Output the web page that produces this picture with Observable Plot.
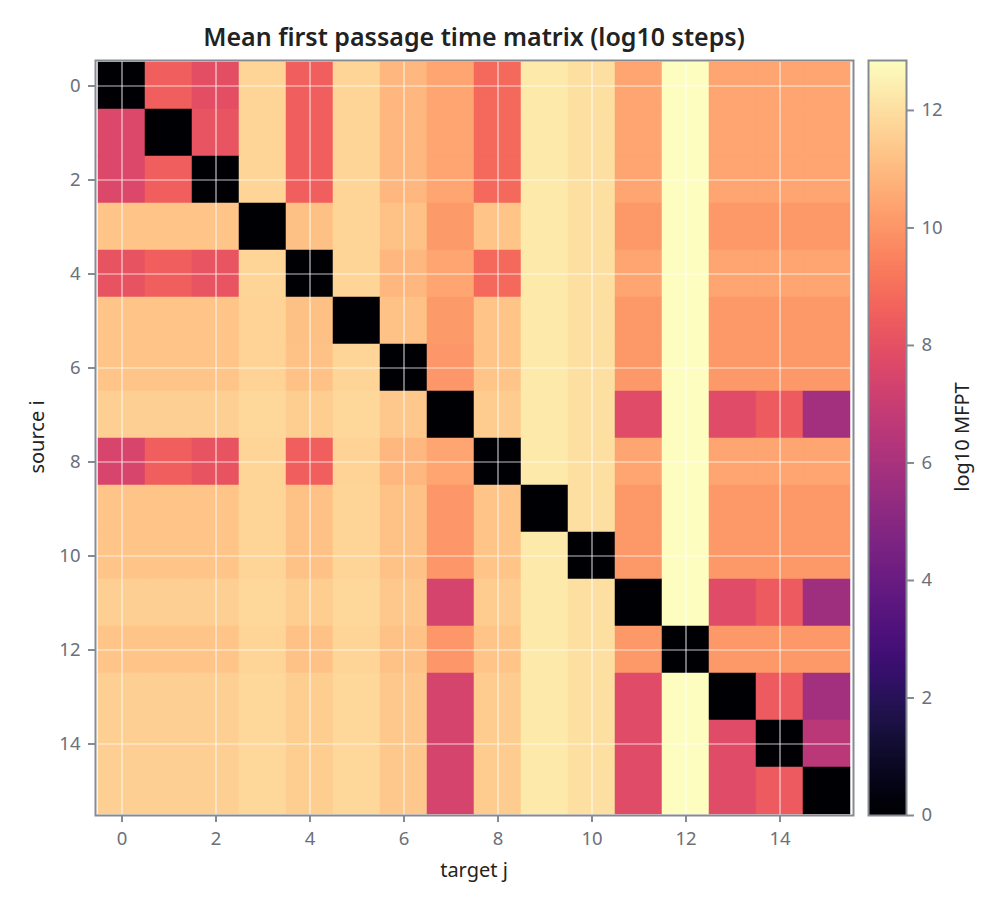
<!DOCTYPE html>
<html>
<head>
<meta charset="utf-8">
<script src="https://cdn.jsdelivr.net/npm/d3@7"></script>
<script src="https://cdn.jsdelivr.net/npm/@observablehq/plot@0.6"></script>
<style>
  body { margin: 0; background: #fff; }
  #wrap { position: relative; width: 1000px; height: 909px; font-family: "Noto Sans", "Open Sans", sans-serif; overflow: hidden; }
  #main, #cbar { position: absolute; top: 0; }
  #main { left: 0; }
  #cbar { left: 860px; }
  #main svg text, #cbar svg text { font-size: 18.5px !important; }
  .lbl { position: absolute; color: #222; font-size: 20px; white-space: nowrap; line-height: 1; }
  #title { left: 95px; width: 758px; top: 24px; text-align: center; font-size: 25px; font-weight: 600; color: #222; }
  #xlab { left: 95px; width: 758px; top: 860px; text-align: center; }
  #ylab { left: 37px; top: 437px; transform: translate(-50%, -50%) rotate(-90deg); }
  #clab { left: 962px; top: 437px; transform: translate(-50%, -50%) rotate(-90deg); }
</style>
</head>
<body>
<div id="wrap">
  <div id="main"></div>
  <div id="cbar"></div>
  <div class="lbl" id="title">Mean first passage time matrix (log10 steps)</div>
  <div class="lbl" id="xlab">target j</div>
  <div class="lbl" id="ylab">source i</div>
  <div class="lbl" id="clab">log10 MFPT</div>
</div>
<script>
// node indices (source i / target j)
const nodes = [0, 1, 2, 3, 4, 5, 6, 7, 8, 9, 10, 11, 12, 13, 14, 15];
// tick labels
const axisTicks = [0, 2, 4, 6, 8, 10, 12, 14];
const colorbarTicks = [0, 2, 4, 6, 8, 10, 12];
const colorMax = 12.85;

// log10 mean first passage time, one array per source row i (columns = target j)
const row0  = [0,     8.5,   7.9,   11.7,  8.5,   11.7,  10.9,  10.4,  8.8,   12.27, 12.0,  10.4,  12.85, 10.4,  10.4,  10.4];
const row1  = [7.67,  0,     8.15,  11.7,  8.5,   11.7,  10.9,  10.4,  8.8,   12.27, 12.0,  10.4,  12.85, 10.4,  10.4,  10.4];
const row2  = [7.67,  8.5,   0,     11.7,  8.5,   11.7,  10.9,  10.4,  8.8,   12.27, 12.0,  10.4,  12.85, 10.4,  10.4,  10.4];
const row3  = [11.27, 11.27, 11.25, 0,     11.15, 11.7,  11.2,  10.1,  11.27, 12.27, 12.0,  10.05, 12.85, 10.05, 10.05, 10.05];
const row4  = [8.1,   8.5,   8.15,  11.7,  0,     11.7,  10.9,  10.4,  8.8,   12.27, 12.0,  10.4,  12.85, 10.4,  10.4,  10.4];
const row5  = [11.27, 11.27, 11.25, 11.65, 11.15, 0,     11.2,  10.1,  11.27, 12.27, 12.0,  10.05, 12.85, 10.05, 10.05, 10.05];
const row6  = [11.27, 11.27, 11.25, 11.65, 11.2,  11.7,  0,     10.0,  11.27, 12.27, 12.0,  10.05, 12.85, 10.05, 10.05, 10.05];
const row7  = [11.55, 11.55, 11.55, 11.8,  11.5,  11.8,  11.35, 0,     11.45, 12.27, 12.0,  7.8,   12.85, 7.8,   8.35,  5.85];
const row8  = [7.5,   8.5,   8.1,   11.7,  8.5,   11.65, 10.9,  10.4,  0,     12.27, 12.0,  10.4,  12.85, 10.4,  10.4,  10.4];
const row9  = [11.27, 11.27, 11.25, 11.7,  11.2,  11.7,  11.2,  10.0,  11.27, 0,     12.0,  10.05, 12.85, 10.05, 10.05, 10.05];
const row10 = [11.27, 11.27, 11.25, 11.7,  11.2,  11.7,  11.2,  10.0,  11.27, 12.27, 0,     10.05, 12.85, 10.05, 10.05, 10.05];
const row11 = [11.55, 11.55, 11.55, 11.8,  11.5,  11.8,  11.35, 7.4,   11.45, 12.27, 12.0,  0,     12.85, 7.8,   8.35,  5.7];
const row12 = [11.27, 11.27, 11.25, 11.7,  11.2,  11.7,  11.2,  10.0,  11.27, 12.27, 12.0,  10.05, 0,     10.05, 10.05, 10.05];
const row13 = [11.55, 11.55, 11.55, 11.8,  11.5,  11.8,  11.35, 7.4,   11.45, 12.27, 12.0,  7.8,   12.85, 0,     8.35,  5.85];
const row14 = [11.55, 11.55, 11.55, 11.8,  11.5,  11.8,  11.35, 7.4,   11.45, 12.27, 12.0,  7.8,   12.85, 7.8,   0,     6.55];
const row15 = [11.55, 11.55, 11.55, 11.8,  11.5,  11.8,  11.35, 7.4,   11.45, 12.27, 12.0,  7.8,   12.85, 7.8,   8.35,  0];

const rows = [row0, row1, row2, row3, row4, row5, row6, row7, row8, row9, row10, row11, row12, row13, row14, row15];
const cells = [];
rows.forEach((r, i) => r.forEach((v, j) => cells.push({i: nodes[i], j: nodes[j], v})));

const colorOpts = {type: "linear", scheme: "magma", domain: [0, colorMax]};
const axisStroke = "#868b93";
const tickText = "#6b7079";

const main = Plot.plot({
  width: 1000,
  height: 909,
  marginLeft: 95,
  marginRight: 147,
  marginTop: 60,
  marginBottom: 94,
  style: {fontFamily: "Noto Sans, Open Sans, sans-serif", fontSize: "18.5px", background: "transparent", overflow: "visible"},
  x: {type: "band", domain: nodes, padding: 0, axis: null},
  y: {type: "band", domain: nodes, padding: 0, axis: null},
  color: colorOpts,
  marks: [
    Plot.cell(cells, {x: "j", y: "i", fill: "v", stroke: "v", strokeWidth: 0.5, inset: 0}),
    Plot.gridX(axisTicks, {stroke: "#ffffff", strokeOpacity: 0.75, strokeWidth: 1.2}),
    Plot.gridY(axisTicks, {stroke: "#ffffff", strokeOpacity: 0.75, strokeWidth: 1.2}),
    Plot.frame({stroke: axisStroke, strokeWidth: 2}),
    Plot.axisX(axisTicks, {anchor: "bottom", tickSize: 7, strokeWidth: 2, stroke: axisStroke, color: tickText, tickPadding: 9, label: null, tickFormat: d3.format("d")}),
    Plot.axisY(axisTicks, {anchor: "left", tickSize: 7, strokeWidth: 2, stroke: axisStroke, color: tickText, tickPadding: 8, label: null, tickFormat: d3.format("d")})
  ]
});
document.getElementById("main").appendChild(main);

const cbar = Plot.plot({
  width: 140,
  height: 909,
  marginLeft: 8,
  marginRight: 94,
  marginTop: 60,
  marginBottom: 94,
  style: {fontFamily: "Noto Sans, Open Sans, sans-serif", fontSize: "18.5px", background: "transparent", overflow: "visible"},
  x: {domain: [0, 1], axis: null},
  y: {domain: [0, colorMax], axis: null},
  color: colorOpts,
  marks: [
    Plot.raster({x1: 0, x2: 1, y1: 0, y2: colorMax, width: 1, height: 400, fill: (x, y) => y, imageRendering: "auto"}),
    Plot.frame({stroke: axisStroke, strokeWidth: 2}),
    Plot.axisY(colorbarTicks, {anchor: "right", tickSize: 7, strokeWidth: 2, stroke: axisStroke, color: tickText, tickPadding: 8, label: null, tickFormat: d3.format("d")})
  ]
});
document.getElementById("cbar").appendChild(cbar);
</script>
</body>
</html>
